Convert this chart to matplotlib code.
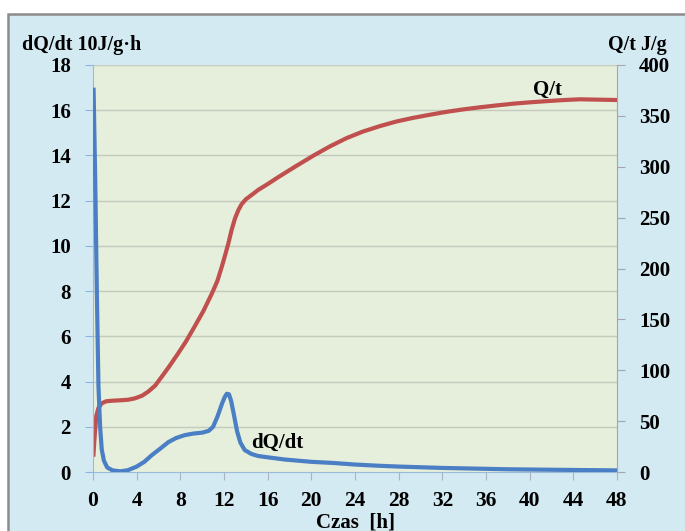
import matplotlib
matplotlib.use("Agg")
import matplotlib.pyplot as plt
from matplotlib.patches import Rectangle

# dQ/dt series (left axis, 10 J/g·h)
t_dq = [0.05, 0.2, 0.35, 0.5, 0.65, 0.8, 1.0, 1.3, 1.8, 2.5, 3.2, 4.0, 4.7, 5.4, 6.2, 6.9,
        7.6, 8.4, 9.2, 10.0, 10.6, 11.0, 11.4, 11.8, 12.05, 12.25, 12.45, 12.65, 12.9, 13.2, 13.5,
        13.9, 14.5, 15.1, 16.0, 17.6, 20.0, 22.0, 24.0, 26.0, 28.0, 30.0, 32.0, 34.0, 36.0,
        38.0, 40.0, 42.0, 44.0, 46.0, 48.0]
dq = [17.0, 13.0, 8.0, 3.8, 2.0, 1.0, 0.5, 0.2, 0.07, 0.03, 0.08, 0.24, 0.45, 0.75, 1.05, 1.32,
      1.5, 1.63, 1.7, 1.74, 1.82, 2.0, 2.45, 3.0, 3.3, 3.46, 3.44, 3.15, 2.55, 1.8, 1.3,
      0.97, 0.8, 0.71, 0.65, 0.55, 0.45, 0.4, 0.33, 0.28, 0.24, 0.21, 0.18, 0.16, 0.14,
      0.12, 0.11, 0.1, 0.09, 0.08, 0.07]

# Q/t series (right axis, J/g)
t_q = [0.03, 0.15, 0.3, 0.5, 0.8, 1.2, 1.7, 2.5, 3.2, 3.85, 4.5, 5.06, 5.7, 6.3, 7.0, 7.8,
       8.5, 9.3, 10.1, 10.9, 11.4, 11.8, 12.1, 12.4, 12.7, 13.0, 13.3, 13.6, 14.0, 14.5, 15.1,
       16.0, 17.0, 18.5, 20.2, 21.7, 23.2, 24.7, 26.3, 27.8, 29.3, 30.8, 32.4, 34.0, 35.5,
       37.0, 38.5, 40.0, 41.6, 43.0, 44.6, 46.0, 48.0]
q = [15, 35, 55, 63, 67.5, 69.5, 70, 70.5, 71, 72.4, 75, 79, 85, 93.7, 104, 116.6,
     128, 142.8, 158, 175.6, 188, 201.8, 213, 224.7, 238, 249, 257, 263, 268, 272, 277,
     283, 290, 300, 311, 320, 328, 334.5, 340, 344.5, 348, 351, 354, 356.5, 358.5,
     360.3, 362, 363.3, 364.5, 365.5, 366.3, 366, 365.6]

x_ticks = list(range(0, 49, 4))
left_ticks = list(range(0, 19, 2))
right_ticks = list(range(0, 401, 50))

W, H = 685, 531
fig = plt.figure(figsize=(W / 100, H / 100), dpi=100, facecolor="white")
fig.patches.append(Rectangle((8 / W, -0.1), 1.2, (H - 14) / H + 0.1, transform=fig.transFigure,
                             facecolor="#D3EAF3", edgecolor="#8C8C8C", linewidth=1.8, zorder=-10))

font = {"family": "Liberation Serif", "weight": "bold"}

# right axis first (owns the plot background)
ax2 = fig.add_axes([93 / W, (H - 472) / H, 524 / W, 407 / H])
ax2.set_facecolor("#E5EFDC")
ax2.set_xlim(0, 48)
ax2.set_ylim(0, 400)
ax2.set_yticks(right_ticks)
ax2.yaxis.tick_right()
ax2.set_xticks([])
for s in ["top", "left", "bottom"]:
    ax2.spines[s].set_visible(False)
ax2.spines["right"].set_color("#A6A6A6")
ax2.tick_params(axis="y", direction="out", length=6, color="#A6A6A6", pad=10)
for lab in ax2.get_yticklabels():
    lab.set_fontproperties(font)
    lab.set_fontsize(15)
ax2.plot(t_q, q, color="#C0504D", linewidth=3, solid_capstyle="butt", zorder=3)

ax = fig.add_axes([93 / W, (H - 472) / H, 524 / W, 407 / H])
ax.patch.set_visible(False)
ax.set_xlim(0, 48)
ax.set_ylim(0, 18)
ax.set_xticks(x_ticks)
ax.set_yticks(left_ticks)
for s in ["top", "right"]:
    ax.spines[s].set_visible(False)
ax.spines["left"].set_color("#9DB9D8")
ax.spines["bottom"].set_color("#9DB9D8")
ax.tick_params(axis="y", direction="out", length=6, color="#8EB4E3", pad=10)
ax.tick_params(axis="x", direction="out", length=6, color="#A8B4C0", pad=8)
for lab in ax.get_xticklabels():
    lab.set_fontproperties(font)
    lab.set_fontsize(15.5)
for lab in ax.get_yticklabels():
    lab.set_fontproperties(font)
    lab.set_fontsize(15)
ax.plot(t_dq, dq, color="#4A7EC5", linewidth=3, solid_capstyle="butt", zorder=4)

# horizontal gridlines on the shared background
for yv in left_ticks[1:]:
    ax2.axhline(yv * 400 / 18, color="#C5CABD", linewidth=1, zorder=1)

fig.text(22 / W, 1 - 45 / H, "dQ/dt 10J/g·h", fontsize=14.5, va="center", ha="left", **font)
fig.text(667 / W, 1 - 45 / H, "Q/t J/g", fontsize=14.5, va="center", ha="right", **font)
fig.text(548 / W, 1 - 90 / H, "Q/t", fontsize=15, va="center", ha="center", **font)
fig.text(277 / W, 1 - 443 / H, "dQ/dt", fontsize=15, va="center", ha="center", **font)
fig.text(356 / W, 1 - 522 / H, "Czas  [h]", fontsize=15, va="center", ha="center", **font)

fig.savefig("out.png", dpi=100, facecolor="white")
